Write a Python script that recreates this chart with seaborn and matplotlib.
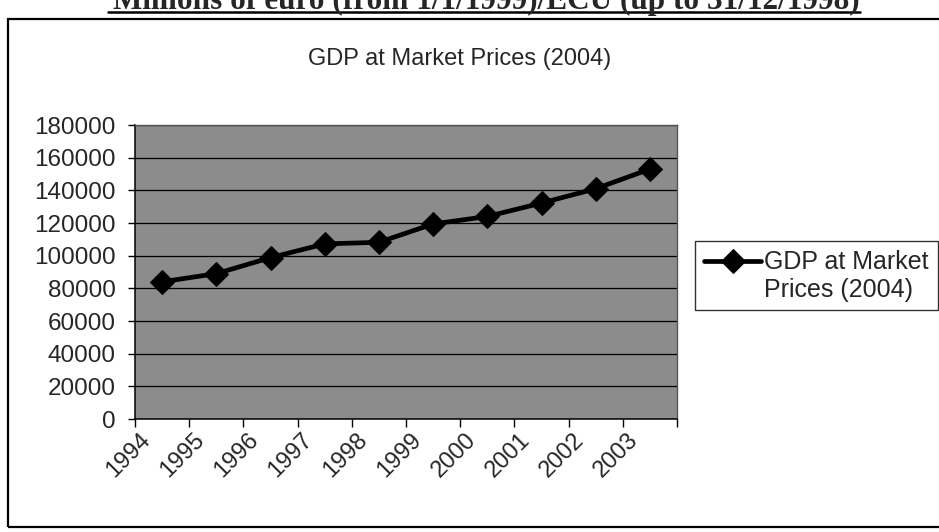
import numpy as np
import pandas as pd
import matplotlib
matplotlib.use("Agg")
import matplotlib.pyplot as plt
from matplotlib.lines import Line2D
from matplotlib.patches import Rectangle
from matplotlib.legend_handler import HandlerLine2D
import seaborn as sns

# ---- data ----
years = ["1994", "1995", "1996", "1997", "1998", "1999", "2000", "2001", "2002", "2003"]
gdp = [84000, 89000, 98800, 107200, 108200, 119400, 124000, 132200, 141000, 153000]
y_ticks = [0, 20000, 40000, 60000, 80000, 100000, 120000, 140000, 160000, 180000]
header = "Millions of euro (from 1/1/1999)/ECU (up to 31/12/1998)"
title = "GDP at Market Prices (2004)"
series_label = "GDP at Market\nPrices (2004)"

sns.set_style("white")
plt.rcParams["font.family"] = ["Liberation Sans", "DejaVu Sans"]

df = pd.DataFrame({"pos": np.arange(len(years)), "year": years, "value": gdp})

fig = plt.figure(figsize=(9.39, 5.32), dpi=100)
ax = fig.add_axes([135 / 939, 1 - 419 / 532, (677 - 135) / 939, (419 - 125) / 532])

# outer chart frame (extends beyond right edge)
fig.patches.append(Rectangle((8 / 939, 1 - 527 / 532), 1.2, (527 - 19) / 532,
                             transform=fig.transFigure, fill=False,
                             edgecolor="black", linewidth=1.6, zorder=0))

# header text (cut off at top, as in the scanned page) with underline
fig.text(860 / 939, 1 - 9 / 532, header, ha="right", va="baseline",
         fontsize=22.5, fontweight="bold", family=["Liberation Serif", "DejaVu Serif"])
fig.add_artist(Line2D([108 / 939, 860 / 939], [1 - 12 / 532, 1 - 12 / 532],
                      transform=fig.transFigure, color="black", linewidth=1.8))

# title
fig.text(460 / 939, 1 - 59 / 532, title, ha="center", va="center", fontsize=17)

# plot area
ax.set_facecolor("#8c8c8c")
for v in y_ticks[1:]:
    ax.axhline(v, color="black", linewidth=0.9, zorder=1)

sns.lineplot(data=df, x="pos", y="value", ax=ax, color="black", linewidth=3.4,
             marker="D", markersize=12.5, markeredgecolor="black",
             label=series_label, zorder=3)

n = len(years)
ax.set_xlim(-0.5, n - 0.5)
ax.set_ylim(0, 180000)
ax.set_yticks(y_ticks)
ax.set_yticklabels([str(v) for v in y_ticks], fontsize=17.5)
# tick marks between categories
ax.set_xticks(np.arange(n + 1) - 0.5)
ax.set_xticklabels([])
# category labels, slanted, sitting a little left of each category centre
ax.set_xticks(np.arange(n) - 0.42, minor=True)
ax.set_xticklabels(years, minor=True, fontsize=17, rotation=45,
                   ha="right", va="top", rotation_mode="anchor")
ax.tick_params(axis="x", which="major", direction="out", length=6, width=1, color="black", bottom=True)
ax.tick_params(axis="x", which="minor", length=0, pad=7)
ax.tick_params(axis="y", direction="out", length=5, width=1, color="black", pad=9, left=True)
ax.set_xlabel("")
ax.set_ylabel("")
for s in ["left", "bottom"]:
    ax.spines[s].set_color("black")
    ax.spines[s].set_linewidth(1.1)
for s in ["top", "right"]:
    ax.spines[s].set_color("#555555")
    ax.spines[s].set_linewidth(1)


class TopHandler(HandlerLine2D):
    def create_artists(self, legend, orig_handle, xdescent, ydescent, width,
                       height, fontsize, trans):
        arts = super().create_artists(legend, orig_handle, xdescent, ydescent,
                                      width, height, fontsize, trans)
        for a in arts:
            a.set_ydata(np.asarray(a.get_ydata(), dtype=float) + 0.6 * fontsize)
        return arts


handles, labels = ax.get_legend_handles_labels()
leg = ax.legend(handles, labels, loc="upper left",
                bbox_to_anchor=(695 / 939, 1 - 241 / 532),
                bbox_transform=fig.transFigure, fontsize=18,
                frameon=True, fancybox=False, shadow=False,
                handlelength=2.3, handletextpad=0.12, borderpad=0.35,
                borderaxespad=0, labelspacing=0.3,
                handler_map={handles[0]: TopHandler()})
leg.get_frame().set_edgecolor("black")
leg.get_frame().set_linewidth(1)
leg.get_frame().set_facecolor("white")

fig.savefig("out.png", dpi=100)
